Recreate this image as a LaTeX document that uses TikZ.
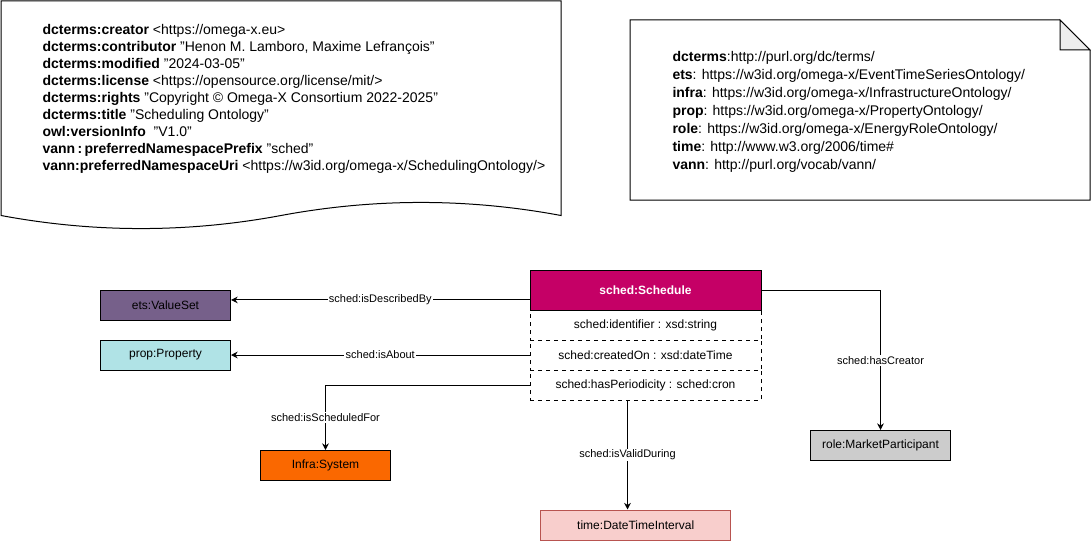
\documentclass[tikz,border=0pt]{standalone}
\usepackage{fontspec}
\setmainfont{Liberation Sans}
\usetikzlibrary{arrows.meta}

\definecolor{schedfill}{HTML}{C50066}
\definecolor{etsfill}{HTML}{76608A}
\definecolor{propfill}{HTML}{B0E3E6}
\definecolor{infrafill}{HTML}{FA6800}
\definecolor{timefill}{HTML}{F8CECC}
\definecolor{timeline}{HTML}{B85450}
\definecolor{rolefill}{HTML}{CCCCCC}

\begin{document}
\begin{tikzpicture}[x=0.75pt,y=-0.75pt,line width=0.75pt,
    box/.style={draw,minimum width=97.5pt,minimum height=22.5pt,inner sep=0pt,font=\fontsize{9}{11}\selectfont},
    attr/.style={draw,dashed,minimum width=173.25pt,minimum height=22.5pt,inner sep=0pt,font=\fontsize{9}{11}\selectfont},
    rel/.style={-{Stealth[length=5pt,width=5pt]}},
    lbl/.style={fill=white,inner sep=1pt,font=\fontsize{8.25}{10}\selectfont}]
  \useasboundingbox (0,0) rectangle (1091,542);

  % metadata
  \draw [fill=white] (1,1) -- (561,1) -- (561,215.5)
      .. controls (467.7,198.1) and (374.3,198.1) .. (281,215.5)
      .. controls (187.7,232.9) and (94.3,232.9) .. (1,215.5) -- cycle;
  \node [anchor=north west,align=left,inner sep=0pt,font=\fontsize{10.5}{12.75}\selectfont] (meta) at (42,23.5) {%
    \textbf{dcterms:creator} <https://omega-x.eu>\\
    \textbf{dcterms:contributor} "Henon M. Lamboro, Maxime Lefrançois"\\
    \textbf{dcterms:modified} "2024-03-05"\\
    \textbf{dcterms:license} <https://opensource.org/license/mit/>\\
    \textbf{dcterms:rights} "Copyright © Omega-X Consortium 2022-2025"\\
    \textbf{dcterms:title} "Scheduling Ontology"\\
    \textbf{owl:versionInfo}\ \ "V1.0"\\
    \textbf{vann\,:\,preferredNamespacePrefix} "sched"\\
    \textbf{vann:preferredNamespaceUri} <https://w3id.org/omega-x/SchedulingOntology/>};

  % prefixes
  \draw [fill=white] (630,20) -- (1060,20) -- (1090,50) -- (1090,200) -- (630,200) -- cycle;
  \draw [fill=black!7] (1060,20) -- (1060,50) -- (1090,50) -- cycle;
  \node [anchor=north west,align=left,inner sep=0pt,font=\fontsize{10.5}{13.5}\selectfont] (ns) at (672,51) {%
    \textbf{dcterms}:http://purl.org/dc/terms/\\
    \textbf{ets}: https://w3id.org/omega-x/EventTimeSeriesOntology/\\
    \textbf{infra}: https://w3id.org/omega-x/InfrastructureOntology/\\
    \textbf{prop}: https://w3id.org/omega-x/PropertyOntology/\\
    \textbf{role}: https://w3id.org/omega-x/EnergyRoleOntology/\\
    \textbf{time}: http://www.w3.org/2006/time\#\\
    \textbf{vann}: http://purl.org/vocab/vann/};

  % schedule class
  \node [draw,fill=schedfill,text=white,minimum width=173.25pt,minimum height=30pt,inner sep=0pt,font=\fontsize{9}{11}\selectfont\bfseries] (hd) at (645.5,290.5) {sched:Schedule};
  \node [attr] (r1) at (645.5,325) {sched:identifier : xsd:string};
  \node [attr] (r2) at (645.5,355) {sched:createdOn : xsd:dateTime};
  \node [attr] (r3) at (645.5,385) {sched:hasPeriodicity : sched:cron};

  \node [box,fill=etsfill] (vs) at (165.5,305.5) {ets:ValueSet};
  \node [box,fill=propfill] (prop) at (165.5,355) {prop:Property};
  \node [box,fill=infrafill] (sys) at (325.5,465.5) {Infra:System};
  \node [box,draw=timeline,fill=timefill,minimum width=142.5pt] (dti) at (635.7,525) {time:DateTimeInterval};
  \node [box,fill=rolefill,minimum width=105pt] (mp) at (880.5,445.5) {role:MarketParticipant};

  % relations
  \draw [rel] ([yshift=-7.1pt]hd.west) -- ([yshift=-7.1pt]hd.west -| vs.east) node [lbl,midway] {sched:isDescribedBy};
  \draw [rel] (r2.west) -- (prop.east) node [lbl,midway] {sched:isAbout};
  \draw [rel] (r3.west) -| (sys.north) node [lbl,pos=0.75] {sched:isScheduledFor};
  \draw [rel] ([xshift=-13.5pt]r3.south) coordinate (vd) -- (vd |- dti.north) node [lbl,midway] {sched:isValidDuring};
  \draw [rel] (hd.east) -| (mp.north) node [lbl,pos=0.75] {sched:hasCreator};
\end{tikzpicture}
\end{document}
